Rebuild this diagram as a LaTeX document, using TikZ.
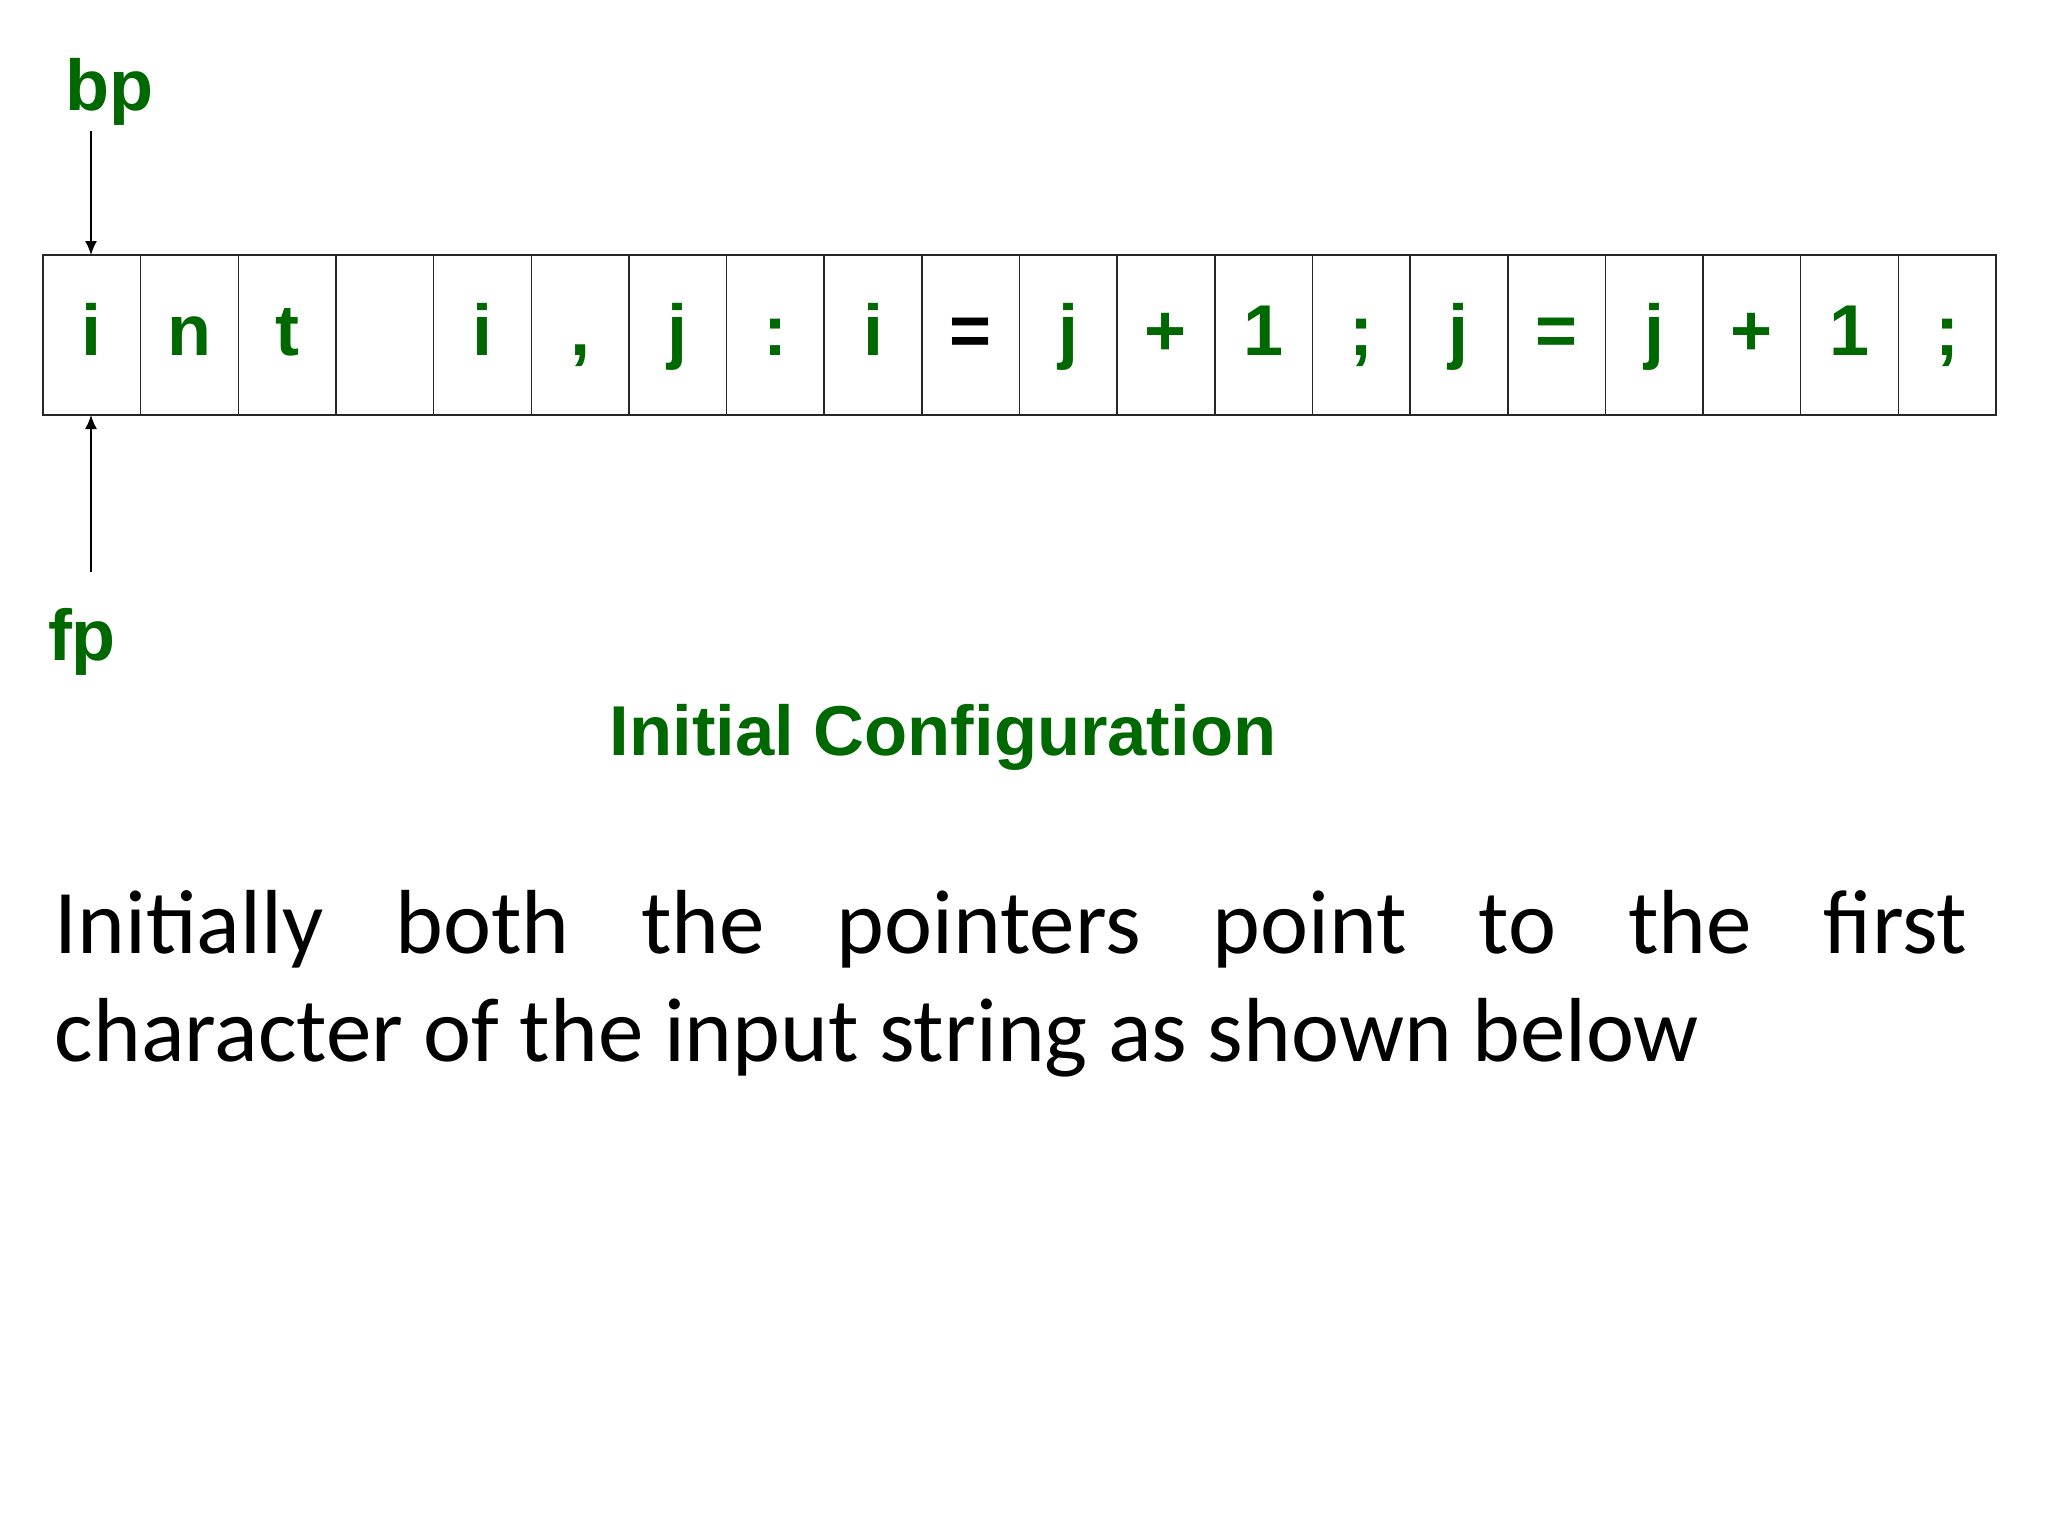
\documentclass[tikz,border=0pt]{standalone}
\usepackage{fontspec}
\setmainfont{Carlito}
\newfontfamily\arialfont{Liberation Sans}
\usepackage{xcolor}
\usetikzlibrary{arrows.meta}

\definecolor{lblgreen}{RGB}{0,104,0}

\begin{document}
\begin{tikzpicture}[x=0.5pt,y=-0.5pt,>={Latex[length=7pt,width=6pt]},line width=0.75pt]

\tikzstyle{cell}=[draw=black!85,minimum width=48.83pt,minimum height=80pt,inner sep=0pt,outer sep=0pt,
  font=\arialfont\bfseries\fontsize{36}{36}\selectfont,text height=26pt,text depth=6pt]
\tikzstyle{pointer}=[font=\arialfont\bfseries\fontsize{36}{36}\selectfont,text=lblgreen,inner sep=0pt]

\useasboundingbox (0,0) rectangle (2048,1536);

% the input buffer
\foreach \ch/\col [count=\k] in {i/lblgreen,n/lblgreen,t/lblgreen,{}/lblgreen,i/lblgreen,{,}/lblgreen,
  j/lblgreen,:/lblgreen,i/lblgreen,=/black,j/lblgreen,+/lblgreen,1/lblgreen,{;}/lblgreen,
  j/lblgreen,=/lblgreen,j/lblgreen,+/lblgreen,1/lblgreen,{;}/lblgreen}
  \node[cell,text=\col] (c\k) at ({43+97.65*(\k-0.5)},335) {\ch};

% pointers
\node[pointer,anchor=base] (bp) at (109,111) {bp};
\node[pointer,anchor=base] (fp) at (82,660) {fp};
\coordinate (bpstart) at (91,131);
\coordinate (fpstart) at (91,572);
\draw[->] (bpstart) -- (c1.north -| bpstart);
\draw[->] (fpstart) -- (c1.south -| fpstart);

\node[font=\arialfont\bfseries\fontsize{35.3}{35}\selectfont,text=lblgreen,anchor=base,inner sep=0pt]
  (title) at (943,755) {Initial Configuration};

\node[anchor=base west,text width=956.5pt,align=justify,inner sep=0pt,
  font=\fontsize{45.5}{54}\selectfont] (desc) at (54,953)
  {Initially both the pointers point to the first\linebreak character of the input string as shown below};
\end{tikzpicture}
\end{document}
